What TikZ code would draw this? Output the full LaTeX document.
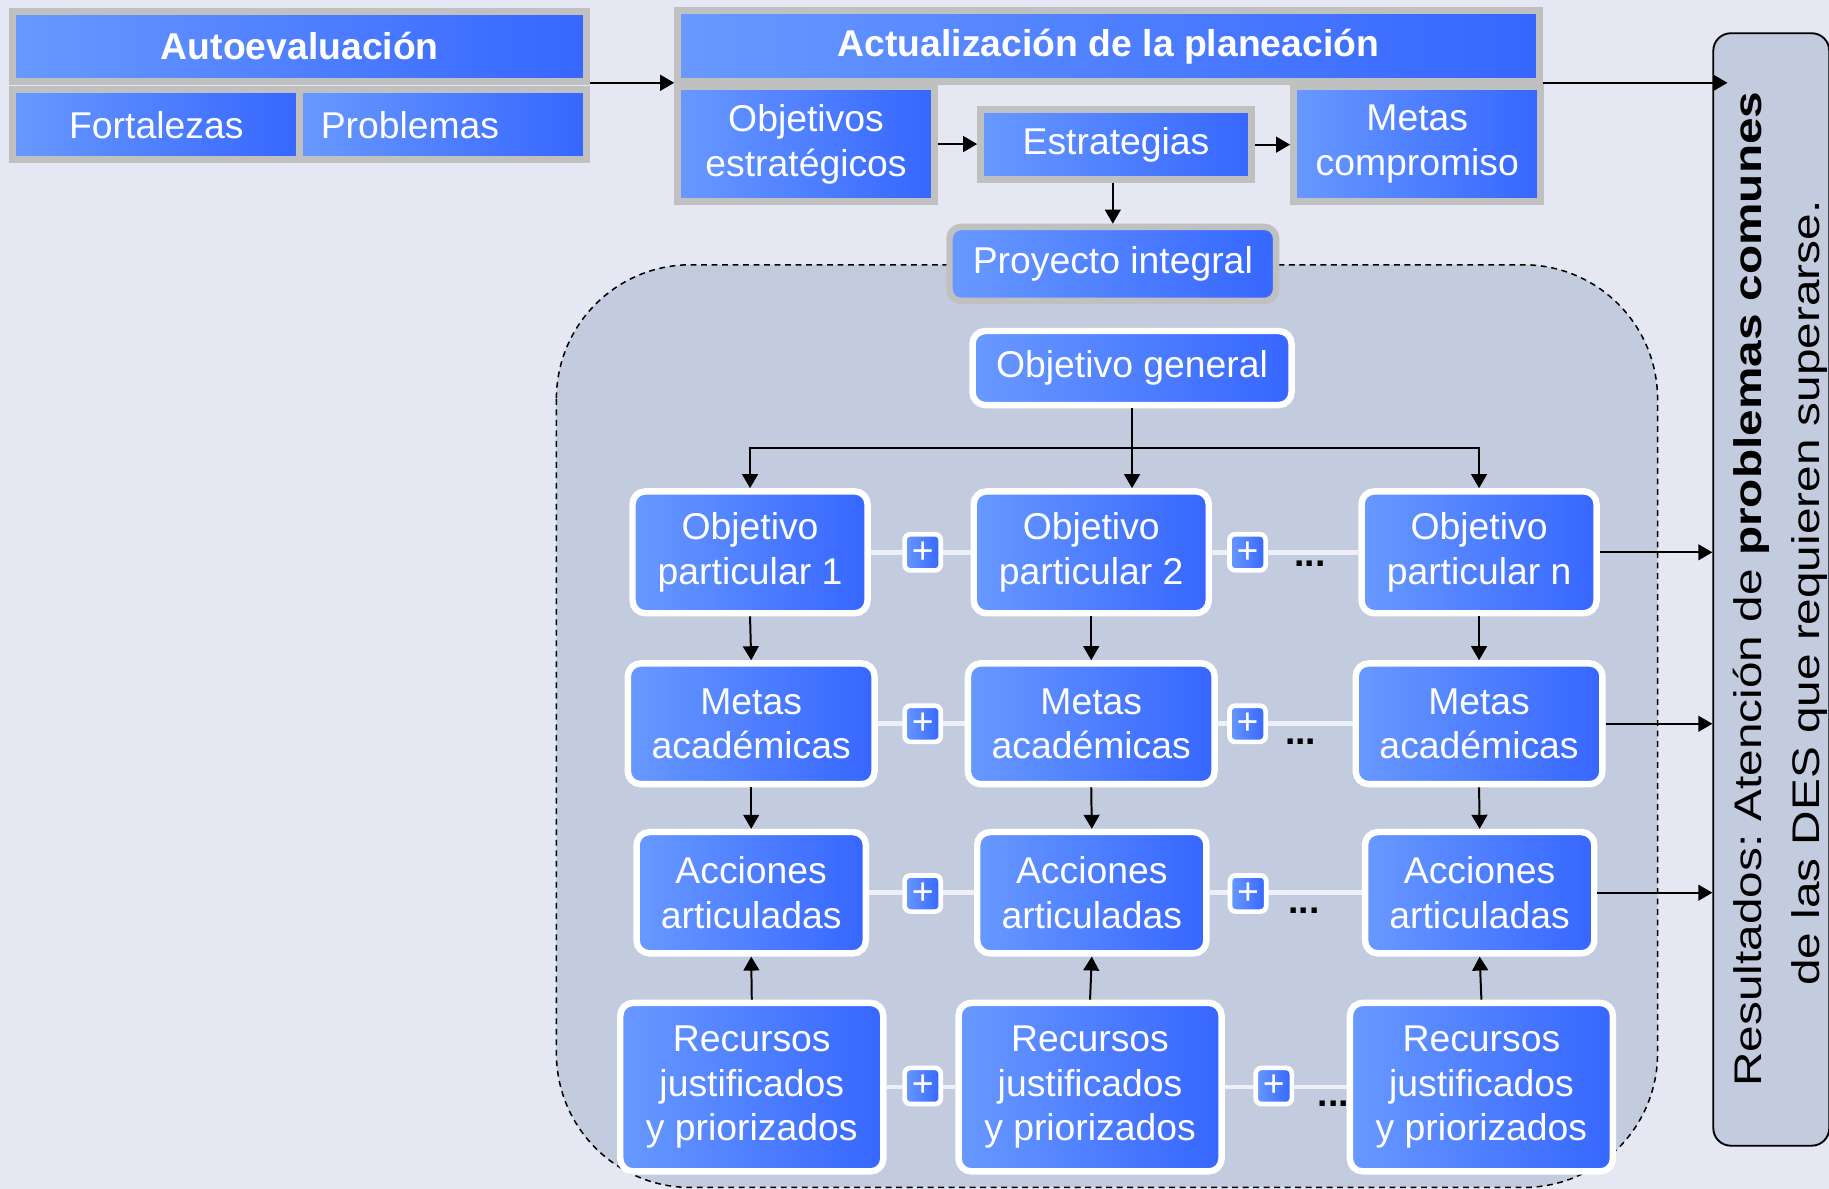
\documentclass[tikz,border=0pt]{standalone}
\usepackage{fontspec}
\setmainfont{Liberation Sans}
\newfontfamily\stretchfont[FakeStretch=1.24]{Liberation Sans}
\usetikzlibrary{arrows.meta}
\pgfdeclarelayer{back}
\pgfdeclarelayer{mid}
\pgfsetlayers{back,mid,main}
\definecolor{bgc}{RGB}{229,232,242}
\definecolor{regc}{RGB}{195,203,222}
\definecolor{cL}{RGB}{104,153,255}
\definecolor{cR}{RGB}{54,102,255}
\definecolor{frameg}{RGB}{192,192,192}
\definecolor{linkc}{RGB}{237,240,247}
\newcommand\boxfont{\fontsize{32}{38.4}\selectfont}
\frenchspacing
\begin{document}
\begin{tikzpicture}[x=1pt,y=-1pt,
  bluefill/.style={left color=cL, right color=cR, text=white, font=\boxfont, inner sep=0pt},
  frame/.style={bluefill, draw=frameg, line width=6pt, align=center},
  wbox/.style={bluefill, draw=white, line width=5.5pt, rounded corners=11pt, align=center},
  plusbox/.style={bluefill, draw=white, line width=4pt, rounded corners=5pt, minimum width=31pt, minimum height=31pt},
  conn/.style={line width=1.7pt, -{Triangle[length=12pt,width=13.5pt]}},
  link/.style={line width=4pt, draw=linkc},
  dots/.style={font=\boxfont\bfseries, anchor=base, inner sep=0pt},
  restext/.style={rotate=90, anchor=base, inner sep=0pt, font=\stretchfont\fontsize{33}{40}\selectfont}
]
\useasboundingbox (0,0) rectangle (1568,1019);
\begin{pgfonlayer}{back}
  \fill[bgc] (0,0) rectangle (1568,1019);
  \draw[fill=regc, line width=1.3pt, dash pattern=on 5pt off 4pt, rounded corners=115pt] (477,227) rectangle (1421,1018);
\end{pgfonlayer}

% top left block
\node[frame, minimum width=492pt, minimum height=60.5pt, font=\boxfont\bfseries] (auto) at (257,39.75) {Autoevaluación};
\node[frame, minimum width=246pt, minimum height=60pt] (fort) at (134,107) {Fortalezas};
\node[frame, minimum width=246pt, minimum height=60pt, text width=210pt, align=left] (prob) at (380,107) {Problemas};

% top middle block
\node[frame, minimum width=738.5pt, minimum height=60.7pt, font=\boxfont\bfseries] (actt) at (950.25,39.65) {Actualización de la planeación};
\node[frame, minimum width=220pt, minimum height=98pt] (objest) at (691,123.5) {Objetivos\\estratégicos};
\node[frame, line width=5.5pt, minimum width=232.5pt, minimum height=60pt] (estr) at (956.75,124) {Estrategias};
\node[frame, minimum width=212pt, minimum height=98pt] (metc) at (1215,123.5) {Metas\\compromiso};
\node[frame, line width=5.5pt, rounded corners=10pt, minimum width=280pt, minimum height=63.5pt] (proy) at (954,226.25) {Proyecto integral};

% right panel
\node[draw=black, line width=1.6pt, fill=regc, rounded corners=15pt, minimum width=99.4pt, minimum height=953.7pt, inner sep=0pt] (panel) at (1518.5,505.35) {};
\node[restext] (res1) at (1510,505) {Resultados: Atención de \textbf{problemas comunes}};
\node[restext] (res2) at (1560,508.5) {de las DES que requieren superarse.};

% inner grid
\node[wbox, minimum width=273.5pt, minimum height=63.5pt] (og) at (970.5,315.5) {Objetivo general};

\node[wbox, minimum width=201.5pt, minimum height=104.5pt] (op1) at (643,473.5) {Objetivo\\particular 1};
\node[wbox, minimum width=201.5pt, minimum height=104.5pt] (op2) at (935.5,473.5) {Objetivo\\particular 2};
\node[wbox, minimum width=201.5pt, minimum height=104.5pt] (opn) at (1268,473.5) {Objetivo\\particular n};

\node[wbox, minimum width=211.5pt, minimum height=103.5pt] (m1) at (644,620.5) {Metas\\académicas};
\node[wbox, minimum width=211.5pt, minimum height=103.5pt] (m2) at (935.5,620.5) {Metas\\académicas};
\node[wbox, minimum width=211.5pt, minimum height=103.5pt] (mn) at (1268,620.5) {Metas\\académicas};

\node[wbox, minimum width=196.5pt, minimum height=104pt] (a1) at (644,765.3) {Acciones\\articuladas};
\node[wbox, minimum width=196.5pt, minimum height=104pt] (a2) at (936,765.3) {Acciones\\articuladas};
\node[wbox, minimum width=196.5pt, minimum height=104pt] (an) at (1268.5,765.3) {Acciones\\articuladas};

\node[wbox, minimum width=225.5pt, minimum height=144.5pt] (r1) at (644.5,932) {Recursos\\justificados\\y priorizados};
\node[wbox, minimum width=225.5pt, minimum height=144.5pt] (r2) at (934.5,932) {Recursos\\justificados\\y priorizados};
\node[wbox, minimum width=225.5pt, minimum height=144.5pt] (rn) at (1270,932) {Recursos\\justificados\\y priorizados};

% plus boxes
\node[plusbox] (p11) at (791,473.5) {+};
\node[plusbox] (p12) at (1069.5,473.5) {+};
\node[plusbox] (p21) at (791,620.5) {+};
\node[plusbox] (p22) at (1069.5,620.5) {+};
\node[plusbox] (p31) at (791,766) {+};
\node[plusbox] (p32) at (1070,766) {+};
\node[plusbox] (p41) at (791,931) {+};
\node[plusbox] (p42) at (1092,931) {+};

% dots
\node[dots] (d1) at (1123,486) {...};
\node[dots] (d2) at (1115,638) {...};
\node[dots] (d3) at (1118,783.5) {...};
\node[dots] (d4) at (1143,949) {...};

% light links
\begin{pgfonlayer}{mid}
  \draw[link] (op1.east) -- (op2.west);
  \draw[link] (op2.east) -- (opn.west);
  \draw[link] (m1.east) -- (m2.west);
  \draw[link] (m2.east) -- (mn.west);
  \draw[link] (a1.east) -- (a2.west);
  \draw[link] (a2.east) -- (an.west);
  \draw[link] (r1.east) -- (r2.west);
  \draw[link] (r2.east) -- (rn.west);
\end{pgfonlayer}

% connectors top
\coordinate (ta) at ([yshift=2pt]auto.south east);
\coordinate (tb) at ([yshift=2pt]actt.south east);
\draw[conn] (ta) -- (ta -| actt.west);
\draw[conn, shorten >=-13pt] (tb) -- (tb -| panel.west);
\draw[conn] (objest.east) -- (objest.east -| estr.west);
\draw[conn] (estr.east) -- (estr.east -| metc.west);
\draw[conn] (proy.north |- estr.south) -- (proy.north);

% connectors grid
\coordinate (bar) at (970.5,384);
\draw[conn] (og.south) -- (og.south |- op2.north);
\draw[conn] (bar) -| (op1.north);
\draw[conn] (bar) -| (opn.north);

\draw[conn] (op1.south) -- (m1.north);
\draw[conn] (op2.south) -- (m2.north);
\draw[conn] (opn.south) -- (mn.north);
\draw[conn] (m1.south) -- (a1.north);
\draw[conn] (m2.south) -- (a2.north);
\draw[conn] (mn.south) -- (an.north);
\draw[conn] (r1.north) -- (a1.south);
\draw[conn] (r2.north) -- (a2.south);
\draw[conn] (rn.north) -- (an.south);

% to results panel
\draw[conn] (opn.east) -- (opn.east -| panel.west);
\draw[conn] (mn.east) -- (mn.east -| panel.west);
\draw[conn] (an.east) -- (an.east -| panel.west);
\end{tikzpicture}
\end{document}
